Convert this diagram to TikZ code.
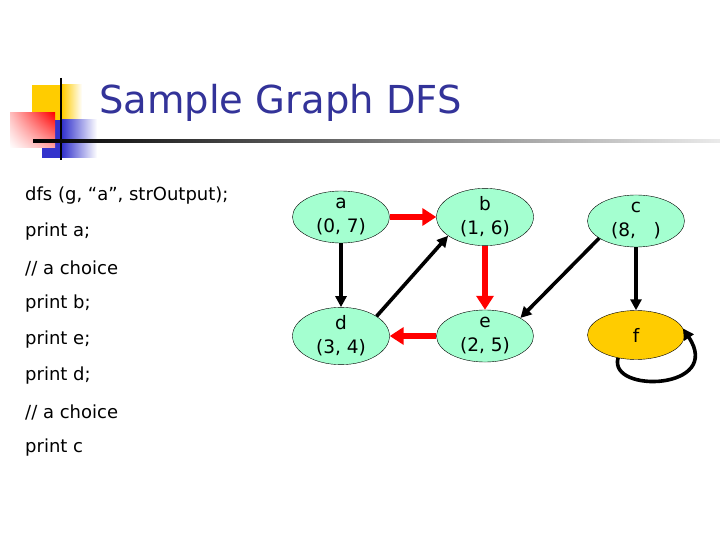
\documentclass[tikz,border=0pt]{standalone}
\usepackage{fontspec}
\setmainfont{DejaVu Sans}
\usepackage{tikz}
\usetikzlibrary{shapes.geometric}
\usetikzlibrary{arrows.meta}
\usetikzlibrary{shadings}
\definecolor{mint}{RGB}{164,255,208}
\definecolor{gold}{RGB}{255,204,0}
\definecolor{titleblue}{RGB}{51,51,153}
\definecolor{logoblue}{RGB}{51,51,204}
\tikzset{vert/.style={ellipse,draw=black,fill=mint,minimum width=97pt,minimum height=49pt,inner sep=0pt,align=center,font=\fontsize{18.5}{24}\selectfont}}
\tikzset{blk/.style={-{Triangle[length=11pt,width=11pt]},line width=3.6pt,black}}
\tikzset{redarr/.style={-{Triangle[length=14pt,width=17pt]},line width=6pt,red}}
\tikzset{codeline/.style={anchor=west,inner sep=0pt,font=\fontsize{18}{20}\selectfont}}

\begin{document}
\begin{tikzpicture}[x=1pt,y=-1pt]
\useasboundingbox[fill=white] (0,0) rectangle (720,540);
% logo
\shade[left color=gold,right color=white] (62,85) rectangle (82,120);
\fill[gold] (32,85) rectangle (62,120);
\shade[left color=logoblue,right color=white] (62,120) rectangle (97,158);
\fill[logoblue] (42,120) rectangle (62,158);
\shade[upper right=red,upper left=red!25,lower right=red!35,lower left=white] (10,113) rectangle (55,148);
\draw[line width=2pt] (61,78) -- (61,160);
\shade[left color=black,right color=black!8] (33,140) rectangle (720,142.2);
\node[anchor=west,text=titleblue,font=\fontsize{38.5}{42}\selectfont,inner sep=0pt] (title) at (99,103) {Sample Graph DFS};

\node[codeline] (l1) at (25,196) {dfs (g, “a”, strOutput);};
\node[codeline] (l2) at (25,232) {print a;};
\node[codeline] (l3) at (25,268) {// a choice};
\node[codeline] (l4) at (25,304) {print b;};
\node[codeline] (l5) at (25,340) {print e;};
\node[codeline] (l6) at (25,376) {print d;};
\node[codeline] (l7) at (25,412) {// a choice};
\node[codeline] (l8) at (25,448) {print c};

\node[vert] (a) at (341,217) {a\\(0, 7)};
\node[vert] (b) at (485,217) {b\\(1, 6)};
\node[vert] (c) at (636,221) {c\\(8, \phantom{0})};
\node[vert] (d) at (341,336) {d\\(3, 4)};
\node[vert] (e) at (485,336) {e\\(2, 5)};
\node[vert,fill=gold] (f) at (636,335) {f};

\draw[redarr] (a.east) -- (b.west);
\draw[redarr] (b.south) -- (e.north);
\draw[redarr] (e.west) -- (d.east);
\draw[blk] (a.south) -- (d.north);
\draw[blk] (d.29) -- (b.207);
\draw[blk] (c.205) -- (e.27);
\draw[blk] (c.south) -- (f.north);
\draw[blk] (f.232) .. controls (608,394) and (724,390) .. (f.8);
\end{tikzpicture}
\end{document}
